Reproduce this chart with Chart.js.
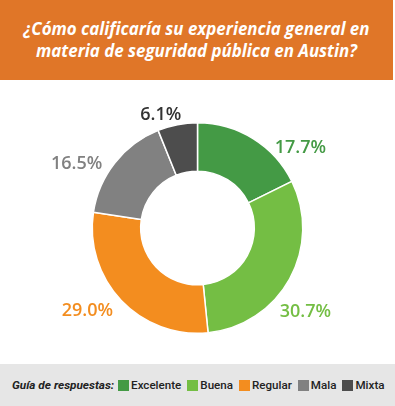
<!DOCTYPE html>
<html><head><meta charset="utf-8">
<script src="https://cdn.jsdelivr.net/npm/chart.js@4/dist/chart.umd.min.js"></script>
<style>
html,body{margin:0;padding:0;background:#fff;width:395px;height:406px;overflow:hidden;}
#title{position:absolute;left:0;top:0;width:393px;height:80px;background:#E07628;color:#fff;
 font-family:"Open Sans",sans-serif;font-style:italic;font-weight:700;font-size:16.9px;line-height:22px;
 display:flex;align-items:center;justify-content:center;text-align:center;}
#wrap{position:absolute;left:0;top:80px;width:395px;height:284px;}
#legend{position:absolute;left:0;top:364px;width:395px;height:42px;background:#E6E6E6;white-space:nowrap;
 font-family:Roboto,sans-serif;font-size:11.6px;color:#222;display:flex;align-items:center;padding-left:12px;box-sizing:border-box;}
#legend .t{font-style:italic;font-weight:700;margin-right:4px;font-size:11.8px;}
#legend .i{display:flex;align-items:center;margin-right:6px;font-weight:500;}
#legend .b{width:11px;height:11px;margin-right:2px;}
</style></head><body>
<div id="title">¿Cómo calificaría su experiencia general en<br>materia de seguridad pública en Austin?</div>
<div id="wrap"><canvas id="c" width="395" height="284"></canvas></div>
<div id="legend"><span class="t">Guía de respuestas:</span></div>
<script>
const categories = ["Excelente", "Buena", "Regular", "Mala", "Mixta"];
const values = [17.7, 30.7, 29.0, 16.5, 6.1];
const colors = ["#449A45", "#74BE44", "#F38D1F", "#818181", "#4D4D4D"];
const labelColors = ["#449A45", "#74BE44", "#F38D1F", "#818181", "#333333"];

const leg = document.getElementById('legend');
categories.forEach((c,i)=>{
  const s=document.createElement('span');s.className='i';
  s.innerHTML='<span class="b" style="background:'+colors[i]+'"></span>'+c;
  leg.appendChild(s);
});

// label placement: angle (deg, 0 = right, clockwise) and distance as factor of outer radius
const labelPlace = [{a:-38,d:1.24},{a:38,d:1.30},{a:143,d:1.31},{a:208,d:1.30},{a:252,d:1.13}];

const labelPlugin = {
  id:'pctLabels',
  afterDatasetsDraw(chart){
    const ctx=chart.ctx;
    const meta=chart.getDatasetMeta(0);
    ctx.save();
    ctx.font='600 18px "Open Sans", sans-serif';
    ctx.textAlign='center';ctx.textBaseline='middle';
    meta.data.forEach((arc,i)=>{
      const p=labelPlace[i];
      const r=arc.outerRadius*p.d, a=p.a*Math.PI/180;
      ctx.fillStyle=labelColors[i];
      ctx.fillText(values[i].toFixed(1)+'%', arc.x+r*Math.cos(a), arc.y+r*Math.sin(a));
    });
    ctx.restore();
  }
};

new Chart(document.getElementById('c'),{
  type:'doughnut',
  data:{labels:categories,datasets:[{data:values,backgroundColor:colors,borderColor:'#ffffff',borderWidth:1.5}]},
  options:{responsive:false,animation:false,cutout:'54%',
    layout:{padding:{top:42,bottom:30,left:0,right:0}},
    plugins:{legend:{display:false},tooltip:{enabled:false}}},
  plugins:[labelPlugin]
});
</script>
</body></html>
